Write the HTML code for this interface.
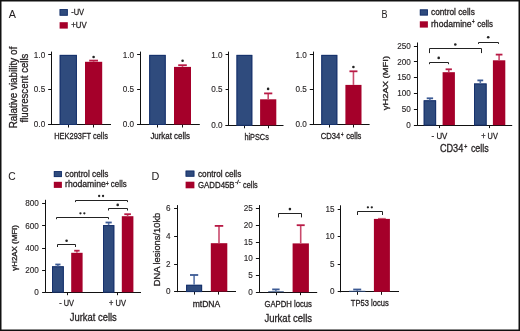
<!DOCTYPE html>
<html><head><meta charset="utf-8"><style>
html,body{margin:0;padding:0;background:#fff;}
svg{display:block;}
text{font-family:"Liberation Sans", sans-serif;stroke:#231f20;stroke-width:0.3px;}
svg{filter:contrast(1.0001);}
</style></head><body>
<svg width="520" height="331" viewBox="0 0 520 331">
<rect x="0" y="0" width="520" height="331" fill="#fff"/>
<rect x="0.75" y="0.75" width="518.5" height="329.5" fill="none" stroke="#111" stroke-width="1.5"/>
<text x="8.80" y="18.1" font-size="11" textLength="7.17" lengthAdjust="spacingAndGlyphs" fill="#231f20" style="stroke-width:0.05px">A</text>
<rect x="59.6" y="9.1" width="8.2" height="6.6" fill="#2f4b7d"/>
<rect x="60.1" y="9.6" width="7.2" height="5.6" fill="none" stroke="#16316c" stroke-width="0.8"/>
<text x="71.20" y="15.2" font-size="9" textLength="12.92" lengthAdjust="spacingAndGlyphs" fill="#231f20">-UV</text>
<rect x="59.6" y="22.2" width="8.2" height="6.4" fill="#a5002a"/>
<text x="71.30" y="27.9" font-size="9" textLength="15.39" lengthAdjust="spacingAndGlyphs" fill="#231f20">+UV</text>
<text x="17.2" y="128.30" font-size="10" textLength="81.46" lengthAdjust="spacingAndGlyphs" transform="rotate(-90 17.2 128.30)" fill="#231f20">Ralative viability of</text>
<text x="28.0" y="122.50" font-size="10" textLength="68.90" lengthAdjust="spacingAndGlyphs" transform="rotate(-90 28.0 122.50)" fill="#231f20">fluorescent cells</text>
<line x1="51.5" y1="51.6" x2="51.5" y2="125.0" stroke="#111" stroke-width="1"/>
<line x1="48.199999999999996" y1="54.5" x2="51.4" y2="54.5" stroke="#111" stroke-width="1"/>
<text x="45.199999999999996" y="57.50000000000001" font-size="8.6" text-anchor="end" textLength="11.36" lengthAdjust="spacingAndGlyphs" fill="#231f20" style="stroke-width:0.12px">1.0</text>
<line x1="48.199999999999996" y1="89.5" x2="51.4" y2="89.5" stroke="#111" stroke-width="1"/>
<text x="45.199999999999996" y="92.3" font-size="8.6" text-anchor="end" textLength="11.36" lengthAdjust="spacingAndGlyphs" fill="#231f20" style="stroke-width:0.12px">0.5</text>
<line x1="48.199999999999996" y1="124.5" x2="51.4" y2="124.5" stroke="#111" stroke-width="1"/>
<text x="45.199999999999996" y="127.1" font-size="8.6" text-anchor="end" textLength="11.36" lengthAdjust="spacingAndGlyphs" fill="#231f20" style="stroke-width:0.12px">0.0</text>
<line x1="48.199999999999996" y1="124.5" x2="111.0" y2="124.5" stroke="#111" stroke-width="1"/>
<line x1="68.5" y1="124.5" x2="68.5" y2="127.5" stroke="#111" stroke-width="1"/>
<line x1="93.5" y1="124.5" x2="93.5" y2="127.5" stroke="#111" stroke-width="1"/>
<rect x="59.7" y="54.900000000000006" width="17.2" height="69.6" fill="#2f4b7d"/>
<rect x="60.2" y="55.400000000000006" width="16.2" height="69.1" fill="none" stroke="#16316c" stroke-width="1"/>
<rect x="85.0" y="61.8" width="17.2" height="62.7" fill="#a5002a"/>
<line x1="93.6" y1="60.6" x2="93.6" y2="61.8" stroke="#c94a6c" stroke-width="1.6"/>
<line x1="89.19999999999999" y1="60.6" x2="98.0" y2="60.6" stroke="#b81a45" stroke-width="1.8"/>
<circle cx="93.6" cy="57.0" r="1.3" fill="#222"/>
<line x1="140.5" y1="51.6" x2="140.5" y2="125.0" stroke="#111" stroke-width="1"/>
<line x1="137.10000000000002" y1="54.5" x2="140.3" y2="54.5" stroke="#111" stroke-width="1"/>
<text x="134.10000000000002" y="57.50000000000001" font-size="8.6" text-anchor="end" textLength="11.36" lengthAdjust="spacingAndGlyphs" fill="#231f20" style="stroke-width:0.12px">1.0</text>
<line x1="137.10000000000002" y1="89.5" x2="140.3" y2="89.5" stroke="#111" stroke-width="1"/>
<text x="134.10000000000002" y="92.3" font-size="8.6" text-anchor="end" textLength="11.36" lengthAdjust="spacingAndGlyphs" fill="#231f20" style="stroke-width:0.12px">0.5</text>
<line x1="137.10000000000002" y1="124.5" x2="140.3" y2="124.5" stroke="#111" stroke-width="1"/>
<text x="134.10000000000002" y="127.1" font-size="8.6" text-anchor="end" textLength="11.36" lengthAdjust="spacingAndGlyphs" fill="#231f20" style="stroke-width:0.12px">0.0</text>
<line x1="137.10000000000002" y1="124.5" x2="199.8" y2="124.5" stroke="#111" stroke-width="1"/>
<line x1="157.5" y1="124.5" x2="157.5" y2="127.5" stroke="#111" stroke-width="1"/>
<line x1="182.5" y1="124.5" x2="182.5" y2="127.5" stroke="#111" stroke-width="1"/>
<rect x="149.2" y="54.900000000000006" width="16.5" height="69.6" fill="#2f4b7d"/>
<rect x="149.7" y="55.400000000000006" width="15.5" height="69.1" fill="none" stroke="#16316c" stroke-width="1"/>
<rect x="174.0" y="66.9" width="17.0" height="57.6" fill="#a5002a"/>
<line x1="182.5" y1="65.2" x2="182.5" y2="66.9" stroke="#c94a6c" stroke-width="1.6"/>
<line x1="178.2" y1="65.2" x2="186.8" y2="65.2" stroke="#b81a45" stroke-width="1.8"/>
<circle cx="182.6" cy="60.7" r="1.3" fill="#222"/>
<line x1="228.5" y1="51.6" x2="228.5" y2="125.8" stroke="#111" stroke-width="1"/>
<line x1="225.60000000000002" y1="54.5" x2="228.8" y2="54.5" stroke="#111" stroke-width="1"/>
<text x="222.60000000000002" y="57.50000000000001" font-size="8.6" text-anchor="end" textLength="11.36" lengthAdjust="spacingAndGlyphs" fill="#231f20" style="stroke-width:0.12px">1.0</text>
<line x1="225.60000000000002" y1="89.5" x2="228.8" y2="89.5" stroke="#111" stroke-width="1"/>
<text x="222.60000000000002" y="92.3" font-size="8.6" text-anchor="end" textLength="11.36" lengthAdjust="spacingAndGlyphs" fill="#231f20" style="stroke-width:0.12px">0.5</text>
<line x1="225.60000000000002" y1="125.5" x2="228.8" y2="125.5" stroke="#111" stroke-width="1"/>
<text x="222.60000000000002" y="127.89999999999999" font-size="8.6" text-anchor="end" textLength="11.36" lengthAdjust="spacingAndGlyphs" fill="#231f20" style="stroke-width:0.12px">0.0</text>
<line x1="225.60000000000002" y1="125.5" x2="283.5" y2="125.5" stroke="#111" stroke-width="1"/>
<line x1="244.5" y1="125.3" x2="244.5" y2="128.3" stroke="#111" stroke-width="1"/>
<line x1="268.5" y1="125.3" x2="268.5" y2="128.3" stroke="#111" stroke-width="1"/>
<rect x="236.5" y="54.900000000000006" width="15.8" height="70.4" fill="#2f4b7d"/>
<rect x="237.0" y="55.400000000000006" width="14.8" height="69.9" fill="none" stroke="#16316c" stroke-width="1"/>
<rect x="260.1" y="99.3" width="16.2" height="26.0" fill="#a5002a"/>
<line x1="268.20000000000005" y1="93.4" x2="268.20000000000005" y2="99.3" stroke="#c94a6c" stroke-width="1.6"/>
<line x1="264.1" y1="93.4" x2="272.30000000000007" y2="93.4" stroke="#b81a45" stroke-width="1.8"/>
<circle cx="268.1" cy="88.9" r="1.3" fill="#222"/>
<line x1="313.5" y1="51.6" x2="313.5" y2="125.0" stroke="#111" stroke-width="1"/>
<line x1="309.8" y1="54.5" x2="313.0" y2="54.5" stroke="#111" stroke-width="1"/>
<text x="306.8" y="57.50000000000001" font-size="8.6" text-anchor="end" textLength="11.36" lengthAdjust="spacingAndGlyphs" fill="#231f20" style="stroke-width:0.12px">1.0</text>
<line x1="309.8" y1="89.5" x2="313.0" y2="89.5" stroke="#111" stroke-width="1"/>
<text x="306.8" y="92.3" font-size="8.6" text-anchor="end" textLength="11.36" lengthAdjust="spacingAndGlyphs" fill="#231f20" style="stroke-width:0.12px">0.5</text>
<line x1="309.8" y1="124.5" x2="313.0" y2="124.5" stroke="#111" stroke-width="1"/>
<text x="306.8" y="127.1" font-size="8.6" text-anchor="end" textLength="11.36" lengthAdjust="spacingAndGlyphs" fill="#231f20" style="stroke-width:0.12px">0.0</text>
<line x1="309.8" y1="124.5" x2="369.6" y2="124.5" stroke="#111" stroke-width="1"/>
<line x1="329.5" y1="124.5" x2="329.5" y2="127.5" stroke="#111" stroke-width="1"/>
<line x1="353.5" y1="124.5" x2="353.5" y2="127.5" stroke="#111" stroke-width="1"/>
<rect x="321.3" y="54.900000000000006" width="16.0" height="69.6" fill="#2f4b7d"/>
<rect x="321.8" y="55.400000000000006" width="15.0" height="69.1" fill="none" stroke="#16316c" stroke-width="1"/>
<rect x="345.4" y="84.9" width="16.1" height="39.6" fill="#a5002a"/>
<line x1="353.45" y1="71.3" x2="353.45" y2="84.9" stroke="#c94a6c" stroke-width="1.6"/>
<line x1="349.45" y1="71.3" x2="357.45" y2="71.3" stroke="#b81a45" stroke-width="1.8"/>
<circle cx="353.4" cy="67.0" r="1.3" fill="#222"/>
<text x="54.20" y="138.9" font-size="9" textLength="53.71" lengthAdjust="spacingAndGlyphs" fill="#231f20">HEK293FT cells</text>
<text x="150.40" y="139.2" font-size="9" textLength="39.51" lengthAdjust="spacingAndGlyphs" fill="#231f20">Jurkat cells</text>
<text x="244.40" y="139.6" font-size="9" textLength="24.40" lengthAdjust="spacingAndGlyphs" fill="#231f20">hiPSCs</text>
<text x="320.80" y="138.9" font-size="8.6" textLength="19.51" lengthAdjust="spacingAndGlyphs" fill="#231f20">CD34</text>
<text x="341.10" y="136.5" font-size="6.5" textLength="2.50" lengthAdjust="spacingAndGlyphs" fill="#231f20" style="stroke-width:0.35px">+</text>
<text x="346.20" y="138.9" font-size="8.6" textLength="15.20" lengthAdjust="spacingAndGlyphs" fill="#231f20">cells</text>
<text x="381.50" y="18.4" font-size="11.4" textLength="6.02" lengthAdjust="spacingAndGlyphs" fill="#231f20" style="stroke-width:0.05px">B</text>
<rect x="419.8" y="9.4" width="8.1" height="6.1" fill="#2f4b7d"/>
<rect x="420.3" y="9.9" width="7.1" height="5.1" fill="none" stroke="#16316c" stroke-width="0.8"/>
<text x="431.00" y="15.4" font-size="9" textLength="43.80" lengthAdjust="spacingAndGlyphs" fill="#231f20">control cells</text>
<rect x="419.8" y="21.3" width="8.1" height="6.3" fill="#a5002a"/>
<text x="431.00" y="26.6" font-size="9" textLength="40.60" lengthAdjust="spacingAndGlyphs" fill="#231f20">rhodamine</text>
<text x="472.10" y="24.3" font-size="6.5" textLength="2.60" lengthAdjust="spacingAndGlyphs" fill="#231f20" style="stroke-width:0.35px">+</text>
<text x="477.20" y="26.6" font-size="9" textLength="15.80" lengthAdjust="spacingAndGlyphs" fill="#231f20">cells</text>
<line x1="417.5" y1="42.5" x2="417.5" y2="125.6" stroke="#111" stroke-width="1"/>
<line x1="413.90000000000003" y1="46.5" x2="417.1" y2="46.5" stroke="#111" stroke-width="1"/>
<text x="410.9" y="48.699999999999996" font-size="8.6" text-anchor="end" textLength="13.63" lengthAdjust="spacingAndGlyphs" fill="#231f20" style="stroke-width:0.12px">250</text>
<line x1="413.90000000000003" y1="61.5" x2="417.1" y2="61.5" stroke="#111" stroke-width="1"/>
<text x="410.9" y="64.49999999999999" font-size="8.6" text-anchor="end" textLength="13.63" lengthAdjust="spacingAndGlyphs" fill="#231f20" style="stroke-width:0.12px">200</text>
<line x1="413.90000000000003" y1="77.5" x2="417.1" y2="77.5" stroke="#111" stroke-width="1"/>
<text x="410.9" y="80.29999999999998" font-size="8.6" text-anchor="end" textLength="13.63" lengthAdjust="spacingAndGlyphs" fill="#231f20" style="stroke-width:0.12px">150</text>
<line x1="413.90000000000003" y1="93.5" x2="417.1" y2="93.5" stroke="#111" stroke-width="1"/>
<text x="410.9" y="96.1" font-size="8.6" text-anchor="end" textLength="13.63" lengthAdjust="spacingAndGlyphs" fill="#231f20" style="stroke-width:0.12px">100</text>
<line x1="413.90000000000003" y1="109.5" x2="417.1" y2="109.5" stroke="#111" stroke-width="1"/>
<text x="410.9" y="111.89999999999999" font-size="8.6" text-anchor="end" textLength="9.09" lengthAdjust="spacingAndGlyphs" fill="#231f20" style="stroke-width:0.12px">50</text>
<line x1="413.90000000000003" y1="125.5" x2="417.1" y2="125.5" stroke="#111" stroke-width="1"/>
<text x="410.9" y="127.69999999999999" font-size="8.6" text-anchor="end" textLength="4.54" lengthAdjust="spacingAndGlyphs" fill="#231f20" style="stroke-width:0.12px">0</text>
<line x1="417.1" y1="125.5" x2="512.2" y2="125.5" stroke="#111" stroke-width="1"/>
<line x1="439.5" y1="125.1" x2="439.5" y2="128.1" stroke="#111" stroke-width="1"/>
<line x1="489.5" y1="125.1" x2="489.5" y2="128.1" stroke="#111" stroke-width="1"/>
<rect x="423.7" y="100.3" width="12.4" height="24.8" fill="#2f4b7d"/>
<rect x="424.2" y="100.8" width="11.4" height="24.3" fill="none" stroke="#16316c" stroke-width="1"/>
<line x1="429.9" y1="98.3" x2="429.9" y2="100.3" stroke="#5d78aa" stroke-width="1.6"/>
<line x1="426.7" y1="98.3" x2="433.09999999999997" y2="98.3" stroke="#3c5a94" stroke-width="1.8"/>
<rect x="442.6" y="72.2" width="12.3" height="52.9" fill="#a5002a"/>
<line x1="448.75" y1="69.3" x2="448.75" y2="72.2" stroke="#c94a6c" stroke-width="1.6"/>
<line x1="445.6" y1="69.3" x2="451.9" y2="69.3" stroke="#b81a45" stroke-width="1.8"/>
<rect x="474.0" y="83.5" width="12.6" height="41.6" fill="#2f4b7d"/>
<rect x="474.5" y="84.0" width="11.6" height="41.1" fill="none" stroke="#16316c" stroke-width="1"/>
<line x1="480.3" y1="80.4" x2="480.3" y2="83.5" stroke="#5d78aa" stroke-width="1.6"/>
<line x1="477.4" y1="80.4" x2="483.20000000000005" y2="80.4" stroke="#3c5a94" stroke-width="1.8"/>
<rect x="492.9" y="60.3" width="12.4" height="64.8" fill="#a5002a"/>
<line x1="499.1" y1="54.6" x2="499.1" y2="60.3" stroke="#c94a6c" stroke-width="1.6"/>
<line x1="495.75" y1="54.6" x2="502.45000000000005" y2="54.6" stroke="#b81a45" stroke-width="1.8"/>
<polyline points="429.5,64.2 429.5,62.5 448.5,62.5 448.5,64.2" fill="none" stroke="#222" stroke-width="1"/>
<circle cx="438.7" cy="57.9" r="1.3" fill="#222"/>
<polyline points="429.5,53.1 429.5,48.5 481.5,48.5 481.5,53.1" fill="none" stroke="#222" stroke-width="1"/>
<circle cx="455.3" cy="44.5" r="1.3" fill="#222"/>
<polyline points="478.5,43.9 478.5,42.5 498.5,42.5 498.5,43.9" fill="none" stroke="#222" stroke-width="1"/>
<circle cx="488.2" cy="37.3" r="1.3" fill="#222"/>
<text x="388.5" y="110.30" font-size="8" textLength="54.38" lengthAdjust="spacingAndGlyphs" transform="rotate(-90 388.5 110.30)" fill="#231f20">&#947;H2AX (MFI)</text>
<text x="431.60" y="138.6" font-size="9" textLength="15.70" lengthAdjust="spacingAndGlyphs" fill="#231f20">- UV</text>
<text x="481.30" y="138.6" font-size="9" textLength="16.51" lengthAdjust="spacingAndGlyphs" fill="#231f20">+ UV</text>
<text x="439.90" y="152.2" font-size="10.3" textLength="23.42" lengthAdjust="spacingAndGlyphs" fill="#231f20">CD34</text>
<text x="464.30" y="149.0" font-size="6.5" textLength="3.09" lengthAdjust="spacingAndGlyphs" fill="#231f20" style="stroke-width:0.35px">+</text>
<text x="470.90" y="152.2" font-size="10.3" textLength="17.90" lengthAdjust="spacingAndGlyphs" fill="#231f20">cells</text>
<text x="8.30" y="180.2" font-size="11.4" textLength="7.42" lengthAdjust="spacingAndGlyphs" fill="#231f20" style="stroke-width:0.05px">C</text>
<rect x="53.8" y="171.1" width="8.1" height="6.0" fill="#2f4b7d"/>
<rect x="54.3" y="171.6" width="7.1" height="5.0" fill="none" stroke="#16316c" stroke-width="0.8"/>
<text x="65.10" y="176.8" font-size="9" textLength="43.40" lengthAdjust="spacingAndGlyphs" fill="#231f20">control cells</text>
<rect x="53.8" y="181.8" width="8.1" height="6.1" fill="#a5002a"/>
<text x="65.10" y="187.4" font-size="9" textLength="40.70" lengthAdjust="spacingAndGlyphs" fill="#231f20">rhodamine</text>
<text x="106.10" y="185.7" font-size="6.5" textLength="2.70" lengthAdjust="spacingAndGlyphs" fill="#231f20" style="stroke-width:0.35px">+</text>
<text x="110.80" y="187.4" font-size="9" textLength="15.80" lengthAdjust="spacingAndGlyphs" fill="#231f20">cells</text>
<line x1="45.5" y1="199.8" x2="45.5" y2="292.7" stroke="#111" stroke-width="1"/>
<line x1="42.099999999999994" y1="203.5" x2="45.3" y2="203.5" stroke="#111" stroke-width="1"/>
<text x="38.8" y="206.39999999999998" font-size="8.6" text-anchor="end" textLength="13.63" lengthAdjust="spacingAndGlyphs" fill="#231f20" style="stroke-width:0.12px">800</text>
<line x1="42.099999999999994" y1="225.5" x2="45.3" y2="225.5" stroke="#111" stroke-width="1"/>
<text x="38.8" y="228.49999999999997" font-size="8.6" text-anchor="end" textLength="13.63" lengthAdjust="spacingAndGlyphs" fill="#231f20" style="stroke-width:0.12px">600</text>
<line x1="42.099999999999994" y1="248.5" x2="45.3" y2="248.5" stroke="#111" stroke-width="1"/>
<text x="38.8" y="250.6" font-size="8.6" text-anchor="end" textLength="13.63" lengthAdjust="spacingAndGlyphs" fill="#231f20" style="stroke-width:0.12px">400</text>
<line x1="42.099999999999994" y1="270.5" x2="45.3" y2="270.5" stroke="#111" stroke-width="1"/>
<text x="38.8" y="272.7" font-size="8.6" text-anchor="end" textLength="13.63" lengthAdjust="spacingAndGlyphs" fill="#231f20" style="stroke-width:0.12px">200</text>
<line x1="42.099999999999994" y1="292.5" x2="45.3" y2="292.5" stroke="#111" stroke-width="1"/>
<text x="38.8" y="294.8" font-size="8.6" text-anchor="end" textLength="4.54" lengthAdjust="spacingAndGlyphs" fill="#231f20" style="stroke-width:0.12px">0</text>
<line x1="45.3" y1="292.5" x2="141" y2="292.5" stroke="#111" stroke-width="1"/>
<line x1="67.5" y1="292.2" x2="67.5" y2="295.2" stroke="#111" stroke-width="1"/>
<line x1="117.5" y1="292.2" x2="117.5" y2="295.2" stroke="#111" stroke-width="1"/>
<rect x="52" y="266.3" width="11.8" height="25.9" fill="#2f4b7d"/>
<rect x="52.5" y="266.8" width="10.8" height="25.4" fill="none" stroke="#16316c" stroke-width="1"/>
<line x1="57.9" y1="264.5" x2="57.9" y2="266.3" stroke="#5d78aa" stroke-width="1.6"/>
<line x1="55.3" y1="264.5" x2="60.5" y2="264.5" stroke="#3c5a94" stroke-width="1.8"/>
<rect x="71.2" y="252.8" width="11.4" height="39.4" fill="#a5002a"/>
<line x1="76.9" y1="250.7" x2="76.9" y2="252.8" stroke="#c94a6c" stroke-width="1.6"/>
<line x1="74.20000000000002" y1="250.7" x2="79.6" y2="250.7" stroke="#b81a45" stroke-width="1.8"/>
<rect x="103" y="225.1" width="11.3" height="67.1" fill="#2f4b7d"/>
<rect x="103.5" y="225.6" width="10.3" height="66.6" fill="none" stroke="#16316c" stroke-width="1"/>
<line x1="108.65" y1="222.5" x2="108.65" y2="225.1" stroke="#5d78aa" stroke-width="1.6"/>
<line x1="105.55000000000001" y1="222.5" x2="111.75" y2="222.5" stroke="#3c5a94" stroke-width="1.8"/>
<rect x="121.8" y="216.2" width="11.6" height="76.0" fill="#a5002a"/>
<line x1="127.6" y1="214.2" x2="127.6" y2="216.2" stroke="#c94a6c" stroke-width="1.6"/>
<line x1="124.29999999999998" y1="214.2" x2="130.9" y2="214.2" stroke="#b81a45" stroke-width="1.8"/>
<polyline points="57.5,247.0 57.5,244.5 75.5,244.5 75.5,247.0" fill="none" stroke="#222" stroke-width="1"/>
<circle cx="66.6" cy="240.7" r="1.3" fill="#222"/>
<polyline points="56.5,219.2 56.5,217.5 108.5,217.5 108.5,219.2" fill="none" stroke="#222" stroke-width="1"/>
<circle cx="80.45" cy="213.3" r="1.15" fill="#222"/>
<circle cx="84.35000000000001" cy="213.3" r="1.15" fill="#222"/>
<polyline points="75.5,202.1 75.5,200.5 127.5,200.5 127.5,202.1" fill="none" stroke="#222" stroke-width="1"/>
<circle cx="99.14999999999999" cy="196" r="1.15" fill="#222"/>
<circle cx="103.05" cy="196" r="1.15" fill="#222"/>
<polyline points="108.5,210.5 108.5,208.5 127.5,208.5 127.5,210.5" fill="none" stroke="#222" stroke-width="1"/>
<circle cx="117.7" cy="204.9" r="1.3" fill="#222"/>
<text x="17.3" y="270.70" font-size="6.5" textLength="45.58" lengthAdjust="spacingAndGlyphs" transform="rotate(-90 17.3 270.70)" fill="#231f20">&#947;H2AX (MFI)</text>
<text x="59.20" y="306.2" font-size="9" textLength="14.70" lengthAdjust="spacingAndGlyphs" fill="#231f20">- UV</text>
<text x="109.10" y="306.2" font-size="9" textLength="16.81" lengthAdjust="spacingAndGlyphs" fill="#231f20">+ UV</text>
<text x="69.70" y="320.6" font-size="10.3" textLength="47.11" lengthAdjust="spacingAndGlyphs" fill="#231f20">Jurkat cells</text>
<text x="151.50" y="179.6" font-size="11.4" textLength="7.82" lengthAdjust="spacingAndGlyphs" fill="#231f20" style="stroke-width:0.05px">D</text>
<rect x="185.6" y="170.6" width="8.8" height="6.1" fill="#2f4b7d"/>
<rect x="186.1" y="171.1" width="7.8" height="5.1" fill="none" stroke="#16316c" stroke-width="0.8"/>
<text x="198.00" y="176.5" font-size="9" textLength="43.30" lengthAdjust="spacingAndGlyphs" fill="#231f20">control cells</text>
<rect x="185.6" y="181.7" width="8.8" height="6.6" fill="#a5002a"/>
<text x="198.00" y="188.1" font-size="9" textLength="36.59" lengthAdjust="spacingAndGlyphs" fill="#231f20">GADD45B</text>
<text x="235.00" y="184.4" font-size="5.5" textLength="5.79" lengthAdjust="spacingAndGlyphs" fill="#231f20">-/-</text>
<text x="243.10" y="188.1" font-size="9" textLength="14.60" lengthAdjust="spacingAndGlyphs" fill="#231f20">cells</text>
<text x="160.1" y="286.30" font-size="9.3" textLength="73.58" lengthAdjust="spacingAndGlyphs" transform="rotate(-90 160.1 286.30)" fill="#231f20">DNA lesions/10kb</text>
<line x1="177.5" y1="205.1" x2="177.5" y2="292.1" stroke="#111" stroke-width="1"/>
<line x1="174.10000000000002" y1="208.5" x2="177.3" y2="208.5" stroke="#111" stroke-width="1"/>
<text x="170.6" y="211.4" font-size="8.6" text-anchor="end" textLength="4.54" lengthAdjust="spacingAndGlyphs" fill="#231f20" style="stroke-width:0.12px">6</text>
<line x1="174.10000000000002" y1="236.5" x2="177.3" y2="236.5" stroke="#111" stroke-width="1"/>
<text x="170.6" y="239.00000000000003" font-size="8.6" text-anchor="end" textLength="4.54" lengthAdjust="spacingAndGlyphs" fill="#231f20" style="stroke-width:0.12px">4</text>
<line x1="174.10000000000002" y1="264.5" x2="177.3" y2="264.5" stroke="#111" stroke-width="1"/>
<text x="170.6" y="266.6" font-size="8.6" text-anchor="end" textLength="4.54" lengthAdjust="spacingAndGlyphs" fill="#231f20" style="stroke-width:0.12px">2</text>
<line x1="174.10000000000002" y1="291.5" x2="177.3" y2="291.5" stroke="#111" stroke-width="1"/>
<text x="170.6" y="294.20000000000005" font-size="8.6" text-anchor="end" textLength="4.54" lengthAdjust="spacingAndGlyphs" fill="#231f20" style="stroke-width:0.12px">0</text>
<line x1="177.3" y1="291.5" x2="236" y2="291.5" stroke="#111" stroke-width="1"/>
<line x1="194.5" y1="291.6" x2="194.5" y2="294.6" stroke="#111" stroke-width="1"/>
<line x1="218.5" y1="291.6" x2="218.5" y2="294.6" stroke="#111" stroke-width="1"/>
<rect x="186.1" y="284.8" width="16.0" height="6.8" fill="#2f4b7d"/>
<rect x="186.6" y="285.3" width="15.0" height="6.3" fill="none" stroke="#16316c" stroke-width="1"/>
<line x1="194.1" y1="275.0" x2="194.1" y2="284.8" stroke="#5d78aa" stroke-width="1.6"/>
<line x1="190.0" y1="275.0" x2="198.2" y2="275.0" stroke="#3c5a94" stroke-width="1.8"/>
<rect x="210.8" y="243.2" width="16.5" height="48.4" fill="#a5002a"/>
<line x1="219.0" y1="225.9" x2="219.0" y2="243.2" stroke="#c94a6c" stroke-width="1.6"/>
<line x1="214.75" y1="225.9" x2="223.25" y2="225.9" stroke="#b81a45" stroke-width="1.8"/>
<text x="192.70" y="306.5" font-size="9" textLength="27.48" lengthAdjust="spacingAndGlyphs" fill="#231f20">mtDNA</text>
<line x1="259.5" y1="205.1" x2="259.5" y2="292.7" stroke="#111" stroke-width="1"/>
<line x1="255.90000000000003" y1="208.5" x2="259.1" y2="208.5" stroke="#111" stroke-width="1"/>
<text x="252.9" y="211.29999999999998" font-size="8.6" text-anchor="end" textLength="9.09" lengthAdjust="spacingAndGlyphs" fill="#231f20" style="stroke-width:0.12px">25</text>
<line x1="255.90000000000003" y1="225.5" x2="259.1" y2="225.5" stroke="#111" stroke-width="1"/>
<text x="252.9" y="227.99999999999997" font-size="8.6" text-anchor="end" textLength="9.09" lengthAdjust="spacingAndGlyphs" fill="#231f20" style="stroke-width:0.12px">20</text>
<line x1="255.90000000000003" y1="242.5" x2="259.1" y2="242.5" stroke="#111" stroke-width="1"/>
<text x="252.9" y="244.7" font-size="8.6" text-anchor="end" textLength="9.09" lengthAdjust="spacingAndGlyphs" fill="#231f20" style="stroke-width:0.12px">15</text>
<line x1="255.90000000000003" y1="258.5" x2="259.1" y2="258.5" stroke="#111" stroke-width="1"/>
<text x="252.9" y="261.40000000000003" font-size="8.6" text-anchor="end" textLength="9.09" lengthAdjust="spacingAndGlyphs" fill="#231f20" style="stroke-width:0.12px">10</text>
<line x1="255.90000000000003" y1="275.5" x2="259.1" y2="275.5" stroke="#111" stroke-width="1"/>
<text x="252.9" y="278.1" font-size="8.6" text-anchor="end" textLength="4.54" lengthAdjust="spacingAndGlyphs" fill="#231f20" style="stroke-width:0.12px">5</text>
<line x1="255.90000000000003" y1="292.5" x2="259.1" y2="292.5" stroke="#111" stroke-width="1"/>
<text x="252.9" y="294.8" font-size="8.6" text-anchor="end" textLength="4.54" lengthAdjust="spacingAndGlyphs" fill="#231f20" style="stroke-width:0.12px">0</text>
<line x1="259.1" y1="292.5" x2="317.2" y2="292.5" stroke="#111" stroke-width="1"/>
<line x1="276.5" y1="292.2" x2="276.5" y2="295.2" stroke="#111" stroke-width="1"/>
<line x1="300.5" y1="292.2" x2="300.5" y2="295.2" stroke="#111" stroke-width="1"/>
<rect x="268.2" y="291.3" width="15.6" height="0.9" fill="#2f4b7d"/>
<line x1="275.9" y1="289.4" x2="275.9" y2="291.3" stroke="#5d78aa" stroke-width="1.6"/>
<line x1="272.2" y1="289.4" x2="279.59999999999997" y2="289.4" stroke="#3c5a94" stroke-width="1.8"/>
<rect x="292.6" y="243.4" width="16.3" height="48.8" fill="#a5002a"/>
<line x1="300.7" y1="225.2" x2="300.7" y2="243.4" stroke="#c94a6c" stroke-width="1.6"/>
<line x1="296.7" y1="225.2" x2="304.7" y2="225.2" stroke="#b81a45" stroke-width="1.8"/>
<polyline points="278.5,217.4 278.5,213.5 301.5,213.5 301.5,217.4" fill="none" stroke="#222" stroke-width="1"/>
<circle cx="289.9" cy="209.1" r="1.3" fill="#222"/>
<text x="264.40" y="306.7" font-size="9" textLength="47.59" lengthAdjust="spacingAndGlyphs" fill="#231f20">GAPDH locus</text>
<text x="264.40" y="321.9" font-size="10.3" textLength="47.61" lengthAdjust="spacingAndGlyphs" fill="#231f20">Jurkat cells</text>
<line x1="340.5" y1="205.3" x2="340.5" y2="292.3" stroke="#111" stroke-width="1"/>
<line x1="337.7" y1="209.5" x2="340.9" y2="209.5" stroke="#111" stroke-width="1"/>
<text x="334.6" y="211.75000000000003" font-size="8.6" text-anchor="end" textLength="9.09" lengthAdjust="spacingAndGlyphs" fill="#231f20" style="stroke-width:0.12px">15</text>
<line x1="337.7" y1="236.5" x2="340.9" y2="236.5" stroke="#111" stroke-width="1"/>
<text x="334.6" y="239.3" font-size="8.6" text-anchor="end" textLength="9.09" lengthAdjust="spacingAndGlyphs" fill="#231f20" style="stroke-width:0.12px">10</text>
<line x1="337.7" y1="264.5" x2="340.9" y2="264.5" stroke="#111" stroke-width="1"/>
<text x="334.6" y="266.85" font-size="8.6" text-anchor="end" textLength="4.54" lengthAdjust="spacingAndGlyphs" fill="#231f20" style="stroke-width:0.12px">5</text>
<line x1="337.7" y1="291.5" x2="340.9" y2="291.5" stroke="#111" stroke-width="1"/>
<text x="334.6" y="294.40000000000003" font-size="8.6" text-anchor="end" textLength="4.54" lengthAdjust="spacingAndGlyphs" fill="#231f20" style="stroke-width:0.12px">0</text>
<line x1="340.9" y1="291.5" x2="399" y2="291.5" stroke="#111" stroke-width="1"/>
<line x1="357.5" y1="291.8" x2="357.5" y2="294.8" stroke="#111" stroke-width="1"/>
<line x1="381.5" y1="291.8" x2="381.5" y2="294.8" stroke="#111" stroke-width="1"/>
<rect x="349.1" y="290.8" width="16.3" height="1.0" fill="#2f4b7d"/>
<line x1="357.2" y1="289.5" x2="357.2" y2="290.8" stroke="#5d78aa" stroke-width="1.6"/>
<line x1="353.2" y1="289.5" x2="361.2" y2="289.5" stroke="#3c5a94" stroke-width="1.8"/>
<rect x="373.9" y="218.9" width="16.0" height="72.9" fill="#a5002a"/>
<line x1="378" y1="218.4" x2="385.8" y2="218.4" stroke="#b8203f" stroke-width="0.8"/>
<polyline points="357.5,215.0 357.5,211.5 382.5,211.5 382.5,215.0" fill="none" stroke="#222" stroke-width="1"/>
<circle cx="367.90000000000003" cy="207.3" r="1.15" fill="#222"/>
<circle cx="371.8" cy="207.3" r="1.15" fill="#222"/>
<text x="350.80" y="306.3" font-size="9" textLength="37.88" lengthAdjust="spacingAndGlyphs" fill="#231f20">TP53 locus</text>
</svg>
</body></html>
